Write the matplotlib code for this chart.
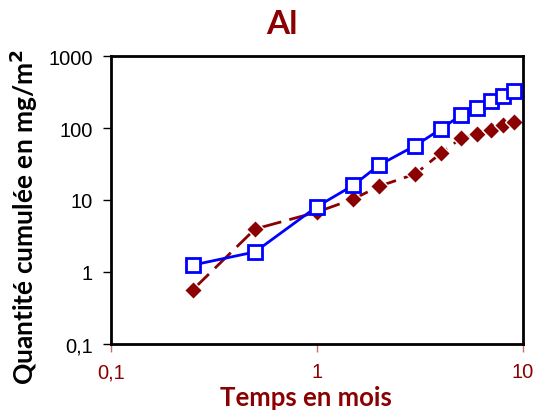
import matplotlib
matplotlib.use("Agg")
import matplotlib.pyplot as plt
from matplotlib.ticker import FixedLocator, FixedFormatter, NullLocator

# data
temps = [0.25, 0.5, 1, 1.5, 2, 3, 4, 5, 6, 7, 8, 9]
serie_bleue = [1.25, 1.9, 8.1, 16, 30.5, 57, 97, 151, 190, 235, 281, 327]
serie_rouge = [0.57, 3.95, 6.8, 10.3, 15.5, 23, 45, 72, 83, 95, 110, 122]

x_ticks = [0.1, 1, 10]
x_labels = ["0,1", "1", "10"]
y_ticks = [0.1, 1, 10, 100, 1000]
y_labels = ["0,1", "1", "10", "100", "1000"]

rouge = "#8b0000"
bleu = "#0000ff"

fig = plt.figure(figsize=(5.37, 4.14), dpi=100)
ax = fig.add_axes([0.2067, 0.1667, 0.7673, 0.6956])

ax.plot(temps, serie_rouge, color=rouge, lw=2, dashes=(8, 3),
        marker="D", ms=9, mfc=rouge, mec="white", mew=1, zorder=2)
ax.plot(temps, serie_bleue, color=bleu, lw=2,
        marker="s", ms=10, mfc="white", mec=bleu, mew=2, zorder=3)

ax.set_xscale("log")
ax.set_yscale("log")
ax.set_xlim(0.1, 10)
ax.set_ylim(0.1, 1000)

ax.xaxis.set_major_locator(FixedLocator(x_ticks))
ax.xaxis.set_major_formatter(FixedFormatter(x_labels))
ax.xaxis.set_minor_locator(NullLocator())
ax.yaxis.set_major_locator(FixedLocator(y_ticks))
ax.yaxis.set_major_formatter(FixedFormatter(y_labels))
ax.yaxis.set_minor_locator(NullLocator())

for s in ax.spines.values():
    s.set_linewidth(2)
    s.set_color("black")

ax.tick_params(axis="x", direction="out", length=6, width=1, color="#c07070",
               labelcolor=rouge, labelsize=14.5, pad=7)
ax.tick_params(axis="y", direction="out", length=6, width=1, color="black",
               labelcolor="black", labelsize=14.5, pad=7)
for lab in ax.get_xticklabels() + ax.get_yticklabels():
    lab.set_fontfamily("Liberation Sans")

fig.text(282 / 537, 1 - 24 / 414, "Al", ha="center", va="center",
         fontsize=24, fontweight="bold", color=rouge, family="Lato")
fig.text(306 / 537, 1 - 398 / 414, "Temps en mois", ha="center", va="center",
         fontsize=18.5, fontweight="bold", color=rouge, family="Lato")
fig.text(24 / 537, 1 - 217 / 414, "Quantité cumulée en mg/m$^\\mathbf{2}$",
         ha="center", va="center", rotation=90,
         fontsize=19, fontweight="bold", color="black", family="Lato")

fig.savefig("out.png", dpi=100)
